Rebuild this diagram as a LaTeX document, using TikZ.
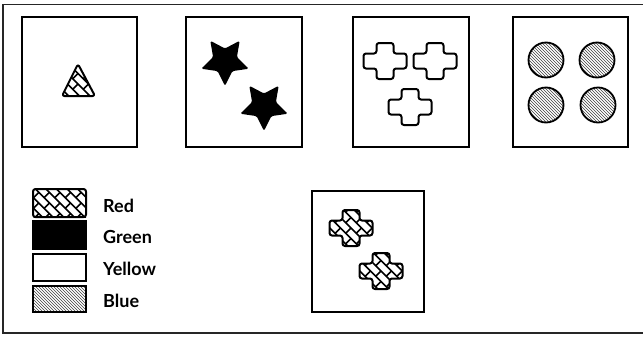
\documentclass[tikz,border=0pt]{standalone}
\usepackage{fontspec}
\setmainfont{Lato}
\usetikzlibrary{patterns}
\tikzset{
  panel/.style={draw=black, line width=1.4pt, fill=white},
  outline/.style={draw=black, line width=2pt, line join=round, rounded corners=2.5pt},
  swatch/.style={draw=black, line width=1.8pt},
  legendtext/.style={anchor=base west, font=\fontsize{18}{22}\selectfont\bfseries, inner sep=0pt},
  brickline/.style={line width=1.6pt, black},
  bluefill/.style={pattern=north west lines, pattern color=black!75},
}
% brick (herringbone-like) hatch, clipped to a given path
\newcommand\brickfill[3]{%
  \begin{scope}
    \clip #1;
    \begin{scope}[shift={(#2,#3)}, rotate=-45]
      \foreach \k in {-7,...,7}{
        \draw[brickline] (-70,{\k*7.5}) -- (70,{\k*7.5});
        \foreach \m in {-5,...,5}{
          \draw[brickline] ({\m*15+mod(abs(\k),2)*7.5},{\k*7.5}) -- ++(0,7.5);
        }
      }
    \end{scope}
  \end{scope}
  \draw[outline] #1;
}
\newcommand\crosspath[2]{(#1-8.5,#2-18) -- (#1+8.5,#2-18) -- (#1+8.5,#2-7.5) -- (#1+21.5,#2-7.5) -- (#1+21.5,#2+7.5) -- (#1+8.5,#2+7.5) -- (#1+8.5,#2+18) -- (#1-8.5,#2+18) -- (#1-8.5,#2+7.5) -- (#1-21.5,#2+7.5) -- (#1-21.5,#2-7.5) -- (#1-8.5,#2-7.5) -- cycle}
\begin{document}
\begin{tikzpicture}[x=1pt, y=-1pt]
\useasboundingbox (0,0) rectangle (643,338);
% outer frame (right side beyond the picture)
\draw[line width=1.5pt, black!85] (650,4.5) -- (3,4.5) -- (3,333) -- (650,333);

% panels
\draw[panel] (22,17) rectangle (137,147);
\draw[panel] (186,17) rectangle (302,147);
\draw[panel] (353,17) rectangle (469,147);
\draw[panel] (513,17) rectangle (628,147);
\draw[panel] (312,191) rectangle (424,312);

% panel 1: red triangle
\brickfill{(78,64) -- (95,96) -- (62,96) -- cycle}{78}{84}

% panel 2: green stars
\coordinate (s1) at (225,61);
\coordinate (s2) at (264,106);
\foreach \c in {s1,s2}{
  \fill[black, rounded corners=1.5pt] (\c) +(90:25) -- +(126:12.5) -- +(162:25) -- +(198:12.5) -- +(234:25) -- +(270:12.5) -- +(306:25) -- +(342:12.5) -- +(18:25) -- +(54:12.5) -- cycle;
}

% panel 3: yellow crosses
\draw[outline, fill=white] \crosspath{385}{61};
\draw[outline, fill=white] \crosspath{435}{61};
\draw[outline, fill=white] \crosspath{410}{107};

% panel 4: blue circles
\foreach \x/\y in {546/60, 597/60, 546/105, 598/105}{
  \draw[line width=1.8pt, bluefill] (\x,\y) circle (17.5);
}

% panel 5: red crosses
\brickfill{\crosspath{351}{228}}{351}{228}
\brickfill{\crosspath{381}{271}}{381}{271}

% legend
\brickfill{(33,189) rectangle (86,217)}{60}{203}
\draw[swatch, fill=black] (33,221) rectangle (86,249);
\draw[swatch, fill=white] (33,254) rectangle (86,281);
\draw[swatch, bluefill] (33,286) rectangle (86,312);
\node[legendtext] (lred) at (103,212) {Red};
\node[legendtext] (lgreen) at (103,243) {Green};
\node[legendtext] (lyellow) at (103,275) {Yellow};
\node[legendtext] (lblue) at (103,307) {Blue};
\end{tikzpicture}
\end{document}
